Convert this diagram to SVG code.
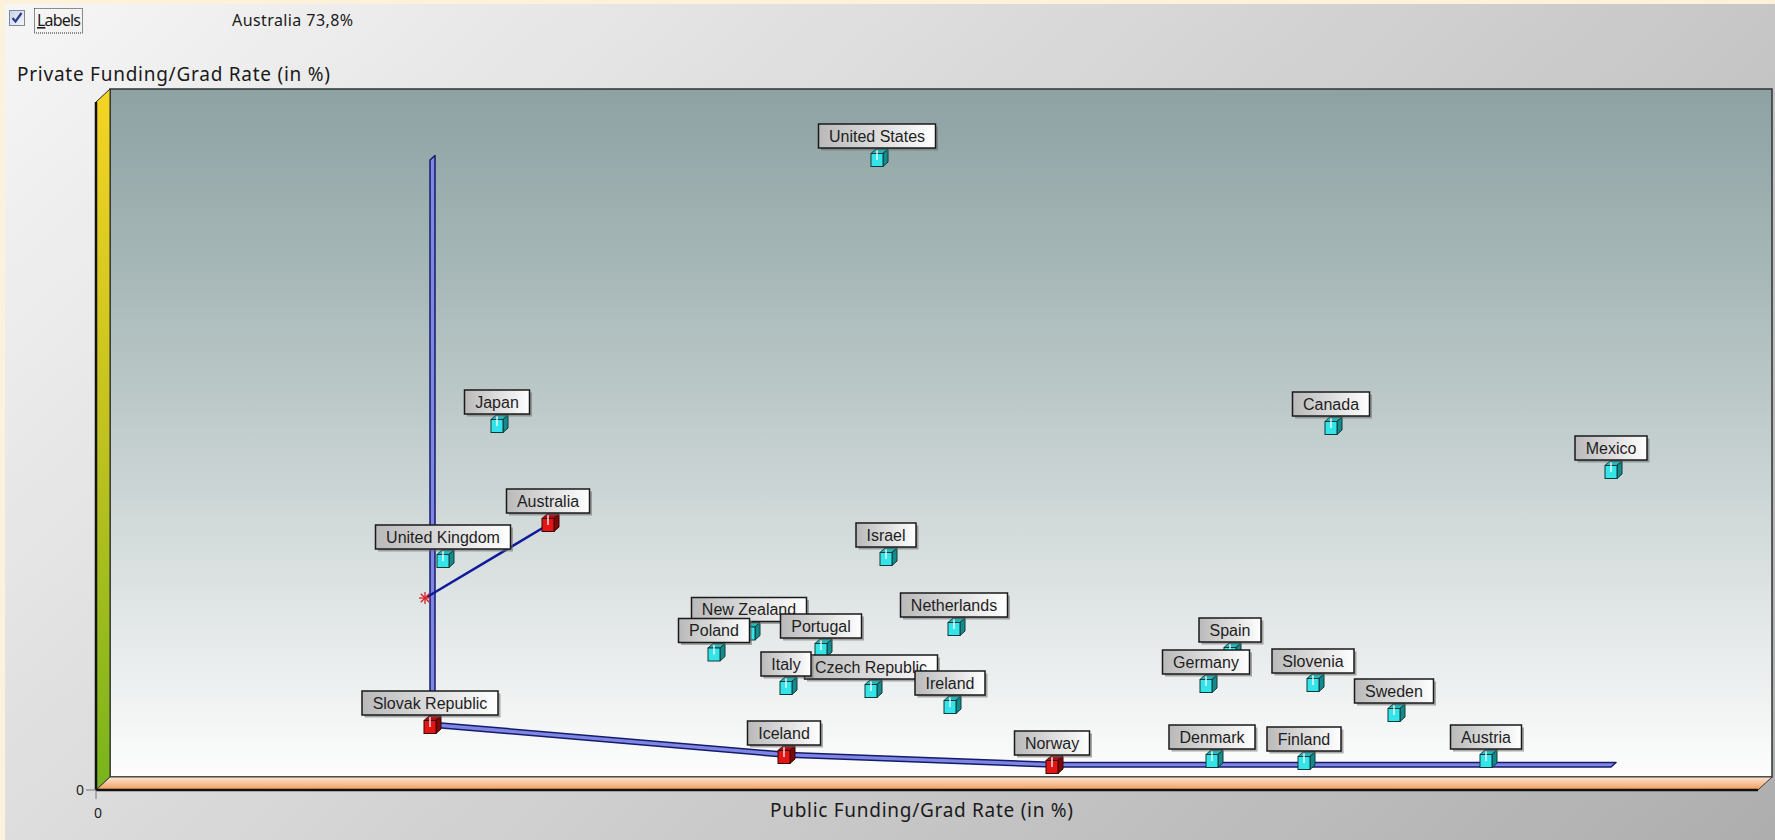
<svg xmlns="http://www.w3.org/2000/svg" xmlns:xlink="http://www.w3.org/1999/xlink" width="1775" height="840" viewBox="0 0 1775 840">
<defs>
<linearGradient id="gPanel" gradientUnits="userSpaceOnUse" x1="0" y1="0" x2="1217" y2="1345"><stop offset="0" stop-color="#f6f6f6"/><stop offset="1" stop-color="#aeaeae"/></linearGradient>
<linearGradient id="gBack" x1="0" y1="0" x2="0" y2="1"><stop offset="0" stop-color="#8ea2a3"/><stop offset="0.25" stop-color="#a5b6b6"/><stop offset="0.5" stop-color="#c2cdcd"/><stop offset="0.75" stop-color="#e0e5e5"/><stop offset="1" stop-color="#fdfdfd"/></linearGradient>
<linearGradient id="gLeft" x1="0" y1="0" x2="0" y2="1"><stop offset="0" stop-color="#f5d423"/><stop offset="0.5" stop-color="#c0c21f"/><stop offset="1" stop-color="#78b41c"/></linearGradient>
<linearGradient id="gFloor" x1="0" y1="0" x2="0" y2="1"><stop offset="0" stop-color="#fde6d4"/><stop offset="1" stop-color="#f29a58"/></linearGradient>
<linearGradient id="gLbl" x1="0" y1="0" x2="1" y2="0"><stop offset="0" stop-color="#b9b9b9"/><stop offset="1" stop-color="#ffffff"/></linearGradient>
<linearGradient id="gChk" x1="0" y1="0" x2="1" y2="1"><stop offset="0" stop-color="#c9d3e6"/><stop offset="1" stop-color="#f4f7fb"/></linearGradient>
<g id="cc">
<polygon points="-6,-6.5 -1,-11 11,-11 6,-6.5" fill="#24b9bd" stroke="#0c3a3a" stroke-width="1"/>
<polygon points="6,-6.5 11,-11 11,2 6,6.5" fill="#158a8c" stroke="#0c3a3a" stroke-width="1"/>
<rect x="-6" y="-6.5" width="12" height="13" fill="#34e4e8" stroke="#0c3a3a" stroke-width="1"/>
<line x1="0" y1="-10" x2="0" y2="0" stroke="#ffffff" stroke-width="1.3"/>
</g>
<g id="cr">
<polygon points="-6,-6.5 -1,-11 11,-11 6,-6.5" fill="#b00e0e" stroke="#3a0404" stroke-width="1"/>
<polygon points="6,-6.5 11,-11 11,2 6,6.5" fill="#7c0808" stroke="#3a0404" stroke-width="1"/>
<rect x="-6" y="-6.5" width="12" height="13" fill="#e21414" stroke="#3a0404" stroke-width="1"/>
<line x1="0" y1="-10" x2="0" y2="0" stroke="#ffffff" stroke-width="1.3"/>
</g>
</defs>
<style>
.shd{fill:#6a6a6a;opacity:0.55}
.lbl{fill:url(#gLbl);stroke:#1a1a1a;stroke-width:1.5}
.lt{font-family:"Liberation Sans",Arial,sans-serif;font-size:16px;fill:#1e1e1e;text-anchor:middle}
.ui{font-family:"Noto Sans","Open Sans",sans-serif;fill:#1a1a1a}
.rib{fill:#7e86e6;stroke:#151b68;stroke-width:1.5;stroke-linejoin:round}
</style>

<rect x="0" y="0" width="1775" height="840" fill="#fcf2dc"/>
<rect x="5" y="4" width="1770" height="836" fill="url(#gPanel)"/>

<g id="header">
<rect x="9.5" y="10.5" width="15" height="15" fill="url(#gChk)" stroke="#7d8898" stroke-width="1"/>
<path d="M12.5,18 L15.5,21.5 L21.5,13" fill="none" stroke="#2b3d8a" stroke-width="2.2"/>
<rect x="34.5" y="8.5" width="48" height="24.5" fill="none" stroke="#222" stroke-width="1" stroke-dasharray="1,1"/>
<text class="ui" x="37" y="26" font-size="16" textLength="44"><tspan text-decoration="underline">L</tspan>abels</text>
<text class="ui" x="232" y="26" font-size="16" textLength="121">Australia 73,8%</text>
<text class="ui" x="17" y="80.5" font-size="19" textLength="313" fill="#2a2a2a">Private Funding/Grad Rate (in %)</text>
<text class="ui" x="770" y="817" font-size="19" textLength="303" fill="#2a2a2a">Public Funding/Grad Rate (in %)</text>
<text class="ui" x="76" y="795" font-size="14" fill="#333">0</text>
<text class="ui" x="94" y="818" font-size="14" fill="#333">0</text>
</g>

<g id="frame">
<rect x="110" y="89" width="1662" height="688" fill="url(#gBack)" stroke="#2e3434" stroke-width="1.5"/>
<polygon points="96,102 110,89 110,777 96,790" fill="url(#gLeft)" stroke="#262626" stroke-width="1"/>
<line x1="96" y1="102" x2="96" y2="790" stroke="#111" stroke-width="2.5"/>
<polygon points="96,790 110,777 1772,777 1758,790" fill="url(#gFloor)" stroke="#3a3a3a" stroke-width="1"/>
<line x1="96" y1="790" x2="1758" y2="790" stroke="#111" stroke-width="2.5"/>
<line x1="86" y1="790" x2="96" y2="790" stroke="#777" stroke-width="1"/>
<line x1="96" y1="790" x2="96" y2="799" stroke="#777" stroke-width="1"/>
</g>

<g id="connectors">
<polygon class="rib" points="430,727 430,160 435,155.5 435,722.5"/>
<polygon class="rib" points="430,727 784,757 1052,767 1611,767 1616,762.5 1057,762.5 789,752.5 435,722.5"/>
<line x1="427" y1="597" x2="546" y2="526" stroke="#0f1a9a" stroke-width="2.5"/>
<g stroke="#d8202a" stroke-width="1.3">
<line x1="425" y1="592" x2="425" y2="604"/>
<line x1="419" y1="598" x2="431" y2="598"/>
<line x1="420.8" y1="593.8" x2="429.2" y2="602.2"/>
<line x1="420.8" y1="602.2" x2="429.2" y2="593.8"/>
</g>
</g>

<g id="n-us" transform="translate(877,160)"><use xlink:href="#cc"/><rect class="shd" x="-56" y="-33.5" width="117" height="24"/><rect class="lbl" x="-58.5" y="-36" width="117" height="24"/><text class="lt" x="0" y="-18.3">United States</text></g>
<g id="n-japan" transform="translate(497,426)"><use xlink:href="#cc"/><rect class="shd" x="-30" y="-33.5" width="65" height="24"/><rect class="lbl" x="-32.5" y="-36" width="65" height="24"/><text class="lt" x="0" y="-18.3">Japan</text></g>
<g id="n-canada" transform="translate(1331,428)"><use xlink:href="#cc"/><rect class="shd" x="-36" y="-33.5" width="77" height="24"/><rect class="lbl" x="-38.5" y="-36" width="77" height="24"/><text class="lt" x="0" y="-18.3">Canada</text></g>
<g id="n-mexico" transform="translate(1611,472)"><use xlink:href="#cc"/><rect class="shd" x="-33.5" y="-33.5" width="72" height="24"/><rect class="lbl" x="-36" y="-36" width="72" height="24"/><text class="lt" x="0" y="-18.3">Mexico</text></g>
<g id="n-australia" transform="translate(548,525)"><use xlink:href="#cr"/><rect class="shd" x="-39" y="-33.5" width="83" height="24"/><rect class="lbl" x="-41.5" y="-36" width="83" height="24"/><text class="lt" x="0" y="-18.3">Australia</text></g>
<g id="n-uk" transform="translate(443,561)"><use xlink:href="#cc"/><rect class="shd" x="-65" y="-33.5" width="135" height="24"/><rect class="lbl" x="-67.5" y="-36" width="135" height="24"/><text class="lt" x="0" y="-18.3">United Kingdom</text></g>
<g id="n-israel" transform="translate(886,559)"><use xlink:href="#cc"/><rect class="shd" x="-27.5" y="-33.5" width="60" height="24"/><rect class="lbl" x="-30" y="-36" width="60" height="24"/><text class="lt" x="0" y="-18.3">Israel</text></g>
<g id="n-netherlands" transform="translate(954,629)"><use xlink:href="#cc"/><rect class="shd" x="-51" y="-33.5" width="107" height="24"/><rect class="lbl" x="-53.5" y="-36" width="107" height="24"/><text class="lt" x="0" y="-18.3">Netherlands</text></g>
<g id="n-newzealand" transform="translate(749,633.5)"><use xlink:href="#cc"/><rect class="shd" x="-55" y="-33.5" width="115" height="24"/><rect class="lbl" x="-57.5" y="-36" width="115" height="24"/><text class="lt" x="0" y="-18.3">New Zealand</text></g>
<g id="n-poland" transform="translate(714,654.5)"><use xlink:href="#cc"/><rect class="shd" x="-33" y="-33.5" width="71" height="24"/><rect class="lbl" x="-35.5" y="-36" width="71" height="24"/><text class="lt" x="0" y="-18.3">Poland</text></g>
<g id="n-portugal" transform="translate(821,650)"><use xlink:href="#cc"/><rect class="shd" x="-38" y="-33.5" width="81" height="24"/><rect class="lbl" x="-40.5" y="-36" width="81" height="24"/><text class="lt" x="0" y="-18.3">Portugal</text></g>
<g id="n-czech" transform="translate(871,691)"><use xlink:href="#cc"/><rect class="shd" x="-64" y="-33.5" width="133" height="24"/><rect class="lbl" x="-66.5" y="-36" width="133" height="24"/><text class="lt" x="0" y="-18.3">Czech Republic</text></g>
<g id="n-italy" transform="translate(786,688)"><use xlink:href="#cc"/><rect class="shd" x="-22.5" y="-33.5" width="50" height="24"/><rect class="lbl" x="-25" y="-36" width="50" height="24"/><text class="lt" x="0" y="-18.3">Italy</text></g>
<g id="n-ireland" transform="translate(950,707)"><use xlink:href="#cc"/><rect class="shd" x="-32.5" y="-33.5" width="70" height="24"/><rect class="lbl" x="-35" y="-36" width="70" height="24"/><text class="lt" x="0" y="-18.3">Ireland</text></g>
<g id="n-spain" transform="translate(1230,654)"><use xlink:href="#cc"/><rect class="shd" x="-28.5" y="-33.5" width="62" height="24"/><rect class="lbl" x="-31" y="-36" width="62" height="24"/><text class="lt" x="0" y="-18.3">Spain</text></g>
<g id="n-germany" transform="translate(1206,686)"><use xlink:href="#cc"/><rect class="shd" x="-41" y="-33.5" width="87" height="24"/><rect class="lbl" x="-43.5" y="-36" width="87" height="24"/><text class="lt" x="0" y="-18.3">Germany</text></g>
<g id="n-slovenia" transform="translate(1313,685)"><use xlink:href="#cc"/><rect class="shd" x="-38.5" y="-33.5" width="82" height="24"/><rect class="lbl" x="-41" y="-36" width="82" height="24"/><text class="lt" x="0" y="-18.3">Slovenia</text></g>
<g id="n-sweden" transform="translate(1394,715)"><use xlink:href="#cc"/><rect class="shd" x="-37" y="-33.5" width="79" height="24"/><rect class="lbl" x="-39.5" y="-36" width="79" height="24"/><text class="lt" x="0" y="-18.3">Sweden</text></g>
<g id="n-denmark" transform="translate(1212,761)"><use xlink:href="#cc"/><rect class="shd" x="-40.5" y="-33.5" width="86" height="24"/><rect class="lbl" x="-43" y="-36" width="86" height="24"/><text class="lt" x="0" y="-18.3">Denmark</text></g>
<g id="n-finland" transform="translate(1304,763)"><use xlink:href="#cc"/><rect class="shd" x="-34.5" y="-33.5" width="74" height="24"/><rect class="lbl" x="-37" y="-36" width="74" height="24"/><text class="lt" x="0" y="-18.3">Finland</text></g>
<g id="n-austria" transform="translate(1486,761)"><use xlink:href="#cc"/><rect class="shd" x="-33" y="-33.5" width="71" height="24"/><rect class="lbl" x="-35.5" y="-36" width="71" height="24"/><text class="lt" x="0" y="-18.3">Austria</text></g>
<g id="n-slovak" transform="translate(430,727)"><use xlink:href="#cr"/><rect class="shd" x="-65.5" y="-33.5" width="136" height="24"/><rect class="lbl" x="-68" y="-36" width="136" height="24"/><text class="lt" x="0" y="-18.3">Slovak Republic</text></g>
<g id="n-iceland" transform="translate(784,757)"><use xlink:href="#cr"/><rect class="shd" x="-34" y="-33.5" width="73" height="24"/><rect class="lbl" x="-36.5" y="-36" width="73" height="24"/><text class="lt" x="0" y="-18.3">Iceland</text></g>
<g id="n-norway" transform="translate(1052,767)"><use xlink:href="#cr"/><rect class="shd" x="-35" y="-33.5" width="75" height="24"/><rect class="lbl" x="-37.5" y="-36" width="75" height="24"/><text class="lt" x="0" y="-18.3">Norway</text></g>
</svg>
